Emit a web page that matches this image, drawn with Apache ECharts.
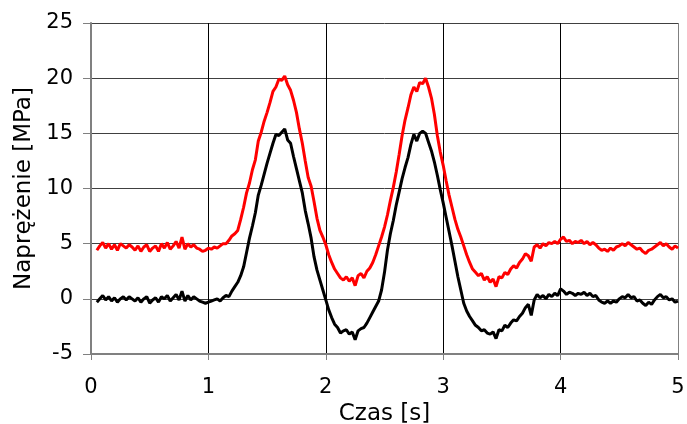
<!DOCTYPE html>
<html>
<head>
<meta charset="utf-8">
<script src="https://cdn.jsdelivr.net/npm/echarts@6/dist/echarts.min.js"></script>
<style>
  html, body { margin: 0; padding: 0; background: #fff; }
  #chart { width: 687px; height: 424px; }
</style>
</head>
<body>
<div id="chart"></div>
<script>
// sampling of the recording: first sample at 0.05 s, one every 0.025 s
const startTime = 0.05;
const sampleStep = 0.025;

const xTicks = [0, 1, 2, 3, 4, 5];
const yTicks = [-5, 0, 5, 10, 15, 20, 25];

// black trace [MPa]
const blackValues = [
    -0.3, 0.0, 0.3, -0.1, 0.2, -0.2, 0.1, -0.3, 0.0, 0.2,
    -0.1, 0.2, 0.0, -0.2, 0.1, -0.3, 0.0, 0.2, -0.4, -0.1,
    0.1, -0.3, 0.2, 0.0, 0.3, -0.2, 0.1, 0.4, -0.1, 0.7,
    -0.2, 0.3, -0.1, 0.2, 0.0, -0.2, -0.3, -0.4, -0.3, -0.2,
    -0.1, 0.0, -0.2, 0.1, 0.3, 0.2, 0.7, 1.1, 1.5, 2.1,
    2.9, 4.2, 5.5, 6.6, 7.8, 9.4, 10.3, 11.3, 12.3, 13.2,
    14.1, 14.9, 14.8, 15.1, 15.4, 14.4, 14.1, 12.9, 11.8, 10.7,
    9.6, 8.0, 6.8, 5.5, 3.8, 2.6, 1.7, 0.8, -0.1, -1.0,
    -1.7, -2.3, -2.6, -3.1, -2.9, -2.8, -3.2, -3.0, -3.7, -2.9,
    -2.7, -2.6, -2.2, -1.7, -1.2, -0.7, -0.2, 0.8, 2.4, 4.4,
    5.9, 7.1, 8.5, 9.7, 10.9, 11.9, 12.8, 14.0, 14.9, 14.3,
    15.0, 15.2, 15.0, 14.2, 13.4, 12.4, 11.2, 9.9, 8.7, 7.4,
    6.1, 4.8, 3.4, 2.0, 0.8, -0.4, -1.1, -1.6, -2.0, -2.4,
    -2.6, -2.9, -2.8, -3.1, -3.2, -3.0, -3.6, -2.8, -2.9, -2.4,
    -2.6, -2.2, -1.9, -2.0, -1.6, -1.3, -0.8, -0.5, -1.5, -0.1,
    0.4, 0.1, 0.3, 0.0, 0.4, 0.2, 0.5, 0.3, 0.9, 0.7,
    0.4, 0.6, 0.5, 0.3, 0.5, 0.4, 0.6, 0.3, 0.5, 0.2,
    0.3, -0.1, -0.3, -0.4, -0.2, -0.4, -0.2, -0.3, 0.0, 0.2,
    0.1, 0.4, 0.1, 0.2, -0.2, -0.1, -0.4, -0.6, -0.3, -0.5,
    -0.1, 0.2, 0.4, 0.1, 0.2, -0.1, 0.0, -0.3, -0.2
];

// red trace [MPa]
const redValues = [
    4.4, 4.8, 5.1, 4.6, 5.0, 4.5, 4.9, 4.4, 5.0, 4.8,
    4.6, 4.9, 4.7, 4.4, 4.8, 4.3, 4.7, 4.9, 4.3, 4.6,
    4.8, 4.3, 5.0, 4.6, 5.1, 4.5, 4.8, 5.2, 4.6, 5.6,
    4.5, 5.0, 4.7, 4.9, 4.6, 4.5, 4.3, 4.4, 4.6, 4.5,
    4.7, 4.6, 4.8, 5.0, 5.0, 5.3, 5.7, 5.9, 6.2, 7.2,
    8.3, 9.6, 10.5, 11.7, 12.6, 14.3, 15.1, 16.1, 16.9, 17.8,
    18.8, 19.2, 19.9, 19.8, 20.2, 19.4, 18.9, 18.0, 16.9, 15.4,
    14.1, 12.5, 11.0, 10.2, 8.8, 7.3, 6.2, 5.6, 4.9, 4.0,
    3.3, 2.7, 2.3, 1.9, 1.7, 2.0, 1.6, 1.9, 1.2, 2.1,
    2.3, 1.9, 2.5, 2.8, 3.3, 4.0, 4.8, 5.6, 6.5, 7.6,
    8.9, 10.1, 11.5, 13.1, 14.8, 16.2, 17.3, 18.5, 19.2, 18.8,
    19.6, 19.5, 20.0, 19.2, 18.2, 16.7, 14.8, 13.3, 12.1, 10.7,
    9.4, 8.3, 7.2, 6.3, 5.6, 4.8, 4.0, 3.3, 2.7, 2.4,
    2.1, 2.3, 1.7, 2.0, 1.5, 1.8, 1.1, 2.0, 1.9, 2.4,
    2.2, 2.7, 3.0, 2.8, 3.3, 3.6, 4.1, 3.9, 3.4, 4.7,
    4.9, 4.6, 5.0, 4.8, 5.1, 5.0, 5.2, 5.0, 5.4, 5.6,
    5.2, 5.3, 5.0, 5.2, 5.1, 5.3, 5.0, 5.2, 4.9, 5.1,
    4.9, 4.6, 4.4, 4.5, 4.3, 4.6, 4.4, 4.7, 4.8, 5.0,
    4.8, 5.1, 4.9, 4.7, 4.5, 4.6, 4.3, 4.1, 4.4, 4.5,
    4.7, 4.9, 5.1, 4.8, 5.0, 4.7, 4.5, 4.8, 4.6
];

function toPoints(values) {
    return values.map((v, i) => [+(startTime + i * sampleStep).toFixed(3), v]);
}

const font = 'DejaVu Sans';
const chart = echarts.init(document.getElementById('chart'), null, { renderer: 'canvas' });

chart.setOption({
    animation: false,
    backgroundColor: '#fff',
    grid: { left: 91, right: 9, top: 23, bottom: 70, outerBoundsMode: 'none' },
    xAxis: {
        type: 'value',
        min: xTicks[0],
        max: xTicks[xTicks.length - 1],
        interval: 1,
        name: 'Czas [s]',
        nameLocation: 'middle',
        nameGap: 44,
        nameTextStyle: { fontFamily: font, fontSize: 23, color: '#000' },
        axisLine: { show: true, onZero: false, lineStyle: { color: '#808080', width: 2 } },
        axisTick: { show: true, inside: false, length: 6, lineStyle: { color: '#808080', width: 1 } },
        axisLabel: { fontFamily: font, fontSize: 21, color: '#000', margin: 23 },
        splitLine: {
            show: true,
            lineStyle: { color: ['#808080', '#000', '#000', '#000', '#000', '#808080'], width: 1 }
        }
    },
    yAxis: {
        type: 'value',
        min: yTicks[0],
        max: yTicks[yTicks.length - 1],
        interval: 5,
        name: 'Naprężenie [MPa]',
        nameLocation: 'middle',
        nameGap: 54,
        nameTextStyle: { fontFamily: font, fontSize: 23, color: '#000' },
        axisLine: { show: true, onZero: false, lineStyle: { color: '#808080', width: 2 } },
        axisTick: { show: true, inside: false, length: 8, lineStyle: { color: '#808080', width: 1 } },
        axisLabel: { fontFamily: font, fontSize: 21, color: '#000', margin: 18 },
        splitLine: { show: true, lineStyle: { color: '#404040', width: 1 } }
    },
    series: [
        {
            name: 'red',
            type: 'line',
            data: toPoints(redValues),
            showSymbol: false,
            lineStyle: { color: '#ff0000', width: 3 },
            itemStyle: { color: '#ff0000' }
        },
        {
            name: 'black',
            type: 'line',
            data: toPoints(blackValues),
            showSymbol: false,
            lineStyle: { color: '#000000', width: 3 },
            itemStyle: { color: '#000000' }
        }
    ]
});
</script>
</body>
</html>
